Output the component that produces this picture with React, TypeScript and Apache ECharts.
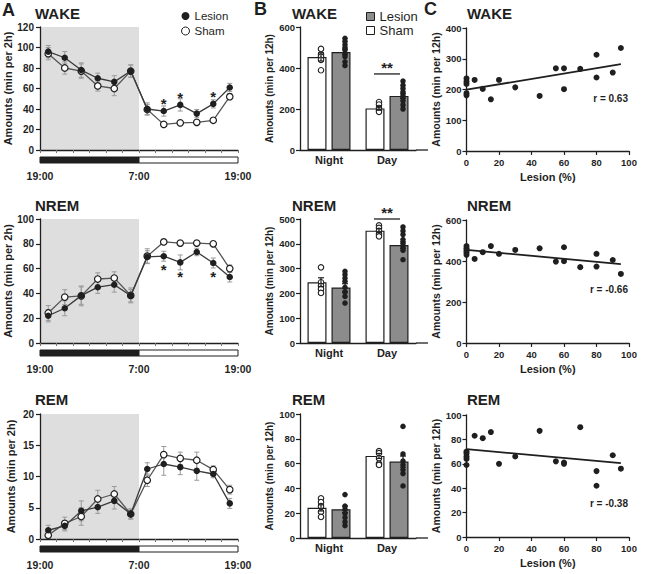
import React, { useEffect, useRef } from "react";
import * as echarts from "echarts";

const FONT = "'Liberation Sans', Arial, Helvetica, sans-serif";
const INK = "#1f1f1f";
const LESION_GRAY = "#8c8c8c";
const NIGHT_SHADE = "#dedede";
const ERR_GRAY = "#9a9a9a";

// ---------- A: time course in 2-h bins (hours after 19:00 lights-off) ----------
const binHours = [1, 3, 5, 7, 9, 11, 13, 15, 17, 19, 21, 23];
const clockLabels = ["19:00", "7:00", "19:00"];
const darkPhase = [0, 12];
const lightPhase = [12, 24];

const wakeLesion = [96, 90, 78, 70, 66.5, 77, 40, 38, 44, 35.5, 45, 61];
const wakeLesionSem = [6, 6, 7, 5, 6, 6, 6, 5, 6, 4, 4, 4];
const wakeSham = [94, 80, 77, 62.5, 60, 77, 39.5, 25, 26.5, 27, 29, 52];
const wakeShamSem = [6, 6, 7, 5, 7, 6, 5, 2, 2, 2, 2, 3];
const wakeSigHours = [15, 17, 21];

const nremLesion = [22, 28, 38.2, 45, 47, 38.2, 69.4, 70, 65, 73.4, 64.5, 53.2];
const nremLesionSem = [5, 6, 7, 5, 6, 5, 5, 4, 6, 3, 4, 4];
const nremSham = [24.2, 37, 38, 51.6, 52.4, 38.4, 70, 81.5, 80.6, 80.6, 80, 60];
const nremShamSem = [6, 6, 8, 5, 5, 6, 6, 2, 2, 2, 2, 3];
const nremSigHours = [15, 17, 21];

const remLesion = [1.4, 2.1, 4.5, 5.1, 6.1, 4.0, 11.2, 12.0, 11.5, 10.9, 10.4, 5.7];
const remLesionSem = [0.8, 0.8, 1.6, 1.0, 1.3, 0.8, 1.0, 1.8, 1.2, 1.5, 0.6, 0.8];
const remSham = [0.6, 2.5, 3.6, 6.4, 7.2, 4.0, 9.4, 13.5, 12.9, 12.6, 11.1, 7.9];
const remShamSem = [0.5, 1.0, 1.4, 1.4, 1.2, 0.8, 1.0, 1.3, 1.0, 1.3, 0.6, 0.7];
const remSigHours: number[] = [];

// ---------- B: 12-h totals, Night / Day ----------
const periods = ["Night", "Day"];

const wakeShamTotal = [454, 203];
const wakeShamTotalSem = [20, 9];
const wakeLesionTotal = [478, 264];
const wakeLesionTotalSem = [14, 13];
const wakeShamNight = [493, 466, 455, 440, 389];
const wakeShamDay = [234, 222, 205, 195, 186];
const wakeLesionNight = [545, 530, 515, 500, 488, 470, 455, 430, 412];
const wakeLesionDay = [336, 316, 300, 284, 268, 256, 240, 220, 200];
const wakeDaySigLevel = 371;

const nremShamTotal = [245, 453];
const nremShamTotalSem = [18, 8];
const nremLesionTotal = [224, 395];
const nremLesionTotalSem = [15, 13];
const nremShamNight = [305, 245, 230, 218, 202];
const nremShamDay = [474, 464, 452, 440, 430];
const nremLesionNight = [289, 276, 262, 249, 224, 205, 188, 161];
const nremLesionDay = [468, 452, 437, 417, 401, 388, 374, 336];
const nremDaySigLevel = 500;

const remShamTotal = [24.3, 66.2];
const remShamTotalSem = [2.5, 2];
const remLesionTotal = [23.2, 61.6];
const remLesionTotalSem = [2.5, 4.5];
const remShamNight = [32, 29, 25.7, 21, 17];
const remShamDay = [70, 68.4, 64.3, 60, 58.9];
const remLesionNight = [35, 25.7, 23, 19.7, 16.5, 13, 10];
const remLesionDay = [90, 67.8, 62, 59, 55, 52, 42];

// ---------- C: daytime amount vs lesion size ----------
const lesionPct = [0, 0, 0, 0, 0, 5, 10, 15, 20, 30, 45, 55, 60, 60, 70, 80, 80, 90, 95];
const wakeDay12h = [236, 226, 218, 188, 181, 231, 202, 168, 231, 207, 179, 269, 269, 201, 267, 313, 239, 255, 335];
const nremDay12h = [473, 462, 451, 441, 430, 410, 443, 473, 435, 454, 462, 397, 467, 399, 370, 435, 373, 405, 337];
const remDay12h = [70, 68.5, 66, 64, 59, 83, 81, 86, 60, 66, 87, 62, 61, 60, 90, 54, 42, 67, 56];
const wakeR = "r = 0.63";
const nremR = "r = -0.66";
const remR = "r = -0.38";

// ---------- layout ----------
const A_LEFT = 40;
const A_W = 198;
const B_LEFT = 300;
const B_W = 116;
const B_AXIS_END = 428;
const C_LEFT = 466.5;
const C_W = 162.5;
const BAR_W = 19;
const BAR_GAP_PX = 5;
const BAR_OFFSET = (BAR_W + BAR_GAP_PX) / 2;
const DOT_SHIFT = 4;

const rowsLayout = [
  { aTop: 27, aH: 123, bTop: 27, bH: 123, cTop: 28, cH: 123, titleY: 13, rY: 98 },
  { aTop: 219, aH: 124, bTop: 219, bH: 124, cTop: 220, cH: 123, titleY: 205, rY: 289 },
  { aTop: 414, aH: 125, bTop: 414, bH: 124, cTop: 415, cH: 122, titleY: 399, rY: 503 },
];

const states = [
  {
    title: "WAKE",
    a: { max: 120, step: 20, lesion: wakeLesion, lesionSem: wakeLesionSem, sham: wakeSham, shamSem: wakeShamSem, sig: wakeSigHours, sigBelow: false },
    b: { max: 600, step: 200, sham: wakeShamTotal, shamSem: wakeShamTotalSem, lesion: wakeLesionTotal, lesionSem: wakeLesionTotalSem, shamDots: [wakeShamNight, wakeShamDay], lesionDots: [wakeLesionNight, wakeLesionDay], sig: wakeDaySigLevel as number | null },
    c: { max: 400, step: 100, ys: wakeDay12h, r: wakeR },
  },
  {
    title: "NREM",
    a: { max: 100, step: 20, lesion: nremLesion, lesionSem: nremLesionSem, sham: nremSham, shamSem: nremShamSem, sig: nremSigHours, sigBelow: true },
    b: { max: 500, step: 100, sham: nremShamTotal, shamSem: nremShamTotalSem, lesion: nremLesionTotal, lesionSem: nremLesionTotalSem, shamDots: [nremShamNight, nremShamDay], lesionDots: [nremLesionNight, nremLesionDay], sig: nremDaySigLevel as number | null },
    c: { max: 600, step: 200, ys: nremDay12h, r: nremR },
  },
  {
    title: "REM",
    a: { max: 20, step: 5, lesion: remLesion, lesionSem: remLesionSem, sham: remSham, shamSem: remShamSem, sig: remSigHours, sigBelow: false },
    b: { max: 100, step: 20, sham: remShamTotal, shamSem: remShamTotalSem, lesion: remLesionTotal, lesionSem: remLesionTotalSem, shamDots: [remShamNight, remShamDay], lesionDots: [remLesionNight, remLesionDay], sig: null as number | null },
    c: { max: 100, step: 20, ys: remDay12h, r: remR },
  },
];

const axisLine = { show: true, lineStyle: { color: INK, width: 1.3 } };
const tickOut = { show: true, inside: false, length: 4, lineStyle: { color: INK, width: 1.2 } };
const boldText = (size: number) => ({ fontFamily: FONT, fontWeight: "bold" as const, fontSize: size, color: INK });

function fitLine(xs: number[], ys: number[]) {
  const n = xs.length;
  const mx = xs.reduce((s, v) => s + v, 0) / n;
  const my = ys.reduce((s, v) => s + v, 0) / n;
  let sxy = 0;
  let sxx = 0;
  xs.forEach((x, i) => {
    sxy += (x - mx) * (ys[i] - my);
    sxx += (x - mx) * (x - mx);
  });
  const slope = sxy / sxx;
  const icpt = my - slope * mx;
  const x0 = Math.min(...xs);
  const x1 = Math.max(...xs);
  return [
    [x0, icpt + slope * x0],
    [x1, icpt + slope * x1],
  ];
}

function errorBars(color: string, cap: number, shiftPx: number, width: number) {
  return (_params: any, api: any) => {
    const x = api.value(0);
    const m = api.value(1);
    const s = api.value(2);
    const hi = api.coord([x, m + s]);
    const lo = api.coord([x, m - s]);
    const cx = hi[0] + shiftPx;
    const st = { stroke: color, lineWidth: width };
    return {
      type: "group",
      children: [
        { type: "line", shape: { x1: cx, y1: hi[1], x2: cx, y2: lo[1] }, style: st },
        { type: "line", shape: { x1: cx - cap, y1: hi[1], x2: cx + cap, y2: hi[1] }, style: st },
        { type: "line", shape: { x1: cx - cap, y1: lo[1], x2: cx + cap, y2: lo[1] }, style: st },
      ],
    };
  };
}

function buildOption() {
  const grid: any[] = [];
  const xAxis: any[] = [];
  const yAxis: any[] = [];
  const series: any[] = [];
  const graphic: any[] = [];

  const addGrid = (g: any) => {
    grid.push({ containLabel: false, outerBoundsMode: "none", ...g });
    return grid.length - 1;
  };

  states.forEach((st, r) => {
    const L = rowsLayout[r];

    // ----- A: time course -----
    const gA = addGrid({ left: A_LEFT, top: L.aTop, width: A_W, height: L.aH });
    xAxis.push({
      gridIndex: gA, type: "value", min: 0, max: 24, interval: 2, z: 6,
      axisLine, axisTick: { show: true, length: 3, lineStyle: { color: "#777", width: 1 } },
      axisLabel: { show: false }, splitLine: { show: false },
    });
    yAxis.push({
      gridIndex: gA, type: "value", min: 0, max: st.a.max, interval: st.a.step, z: 6,
      axisLine, axisTick: tickOut, splitLine: { show: false },
      axisLabel: { ...boldText(10), margin: 6 },
      name: "Amounts (min per 2h)", nameLocation: "middle", nameRotate: 90, nameGap: 24,
      nameTextStyle: boldText(11),
    });

    series.push({
      type: "line", xAxisIndex: gA, yAxisIndex: gA, data: [], silent: true, z: 1,
      markArea: { silent: true, itemStyle: { color: NIGHT_SHADE }, data: [[{ xAxis: darkPhase[0] }, { xAxis: darkPhase[1] }]] },
    });
    series.push({
      type: "custom", xAxisIndex: gA, yAxisIndex: gA, z: 3, silent: true,
      renderItem: errorBars(ERR_GRAY, 2.5, 0, 1),
      data: binHours.map((h, i) => [h, st.a.sham[i], st.a.shamSem[i]]),
    });
    series.push({
      type: "custom", xAxisIndex: gA, yAxisIndex: gA, z: 3, silent: true,
      renderItem: errorBars(ERR_GRAY, 2.5, 0, 1),
      data: binHours.map((h, i) => [h, st.a.lesion[i], st.a.lesionSem[i]]),
    });
    series.push({
      name: "Sham", type: "line", xAxisIndex: gA, yAxisIndex: gA, z: 5,
      symbol: "circle", symbolSize: 6.5,
      itemStyle: { color: "#fff", borderColor: INK, borderWidth: 1.2 },
      lineStyle: { color: "#555", width: 1.3 },
      data: binHours.map((h, i) => [h, st.a.sham[i]]),
    });
    series.push({
      name: "Lesion", type: "line", xAxisIndex: gA, yAxisIndex: gA, z: 6,
      symbol: "circle", symbolSize: 6.5,
      itemStyle: { color: INK, borderWidth: 0 },
      lineStyle: { color: "#3a3a3a", width: 1.3 },
      data: binHours.map((h, i) => {
        const v = [h, st.a.lesion[i]];
        if (!st.a.sig.includes(h)) return v;
        return {
          value: v,
          label: {
            show: true, formatter: "*", position: st.a.sigBelow ? "bottom" : "top",
            distance: 0, offset: [0, 3], fontSize: 15, fontWeight: "bold", fontFamily: FONT, color: INK,
          },
        };
      }),
    });

    // light/dark bar with clock labels
    const gP = addGrid({ left: A_LEFT, top: L.aTop + L.aH + 7, width: A_W, height: 6 });
    xAxis.push({
      gridIndex: gP, type: "value", min: 0, max: 24, interval: 12,
      axisLine: { show: false }, axisTick: { show: false }, splitLine: { show: false },
      axisLabel: {
        ...boldText(10.5), margin: 7, showMinLabel: true, showMaxLabel: true,
        formatter: (v: number) => clockLabels[Math.round(v / 12)],
      },
    });
    yAxis.push({ gridIndex: gP, type: "value", min: 0, max: 1, show: false });
    series.push({
      type: "custom", xAxisIndex: gP, yAxisIndex: gP, silent: true,
      renderItem: (params: any, api: any) => {
        const a = api.coord([api.value(0), 0]);
        const b = api.coord([api.value(1), 0]);
        const cs = params.coordSys;
        const dark = api.value(2) === 1;
        return {
          type: "rect",
          shape: { x: a[0], y: cs.y, width: b[0] - a[0], height: cs.height },
          style: { fill: dark ? INK : "#fff", stroke: INK, lineWidth: 1 },
        };
      },
      data: [
        [darkPhase[0], darkPhase[1], 1],
        [lightPhase[0], lightPhase[1], 0],
      ],
    });

    // ----- B: 12-h totals -----
    const gB = addGrid({ left: B_LEFT, top: L.bTop, width: B_W, height: L.bH });
    xAxis.push({
      gridIndex: gB, type: "category", data: periods, boundaryGap: true,
      axisLine, axisTick: { show: false }, axisLabel: { ...boldText(11), margin: 4 },
    });
    yAxis.push({
      gridIndex: gB, type: "value", min: 0, max: st.b.max, interval: st.b.step,
      axisLine, axisTick: tickOut, splitLine: { show: false },
      axisLabel: { ...boldText(9.5), margin: 5 },
      name: "Amounts (min per 12h)", nameLocation: "middle", nameRotate: 90, nameGap: 26,
      nameTextStyle: boldText(10),
    });
    series.push({
      name: "Sham", type: "bar", xAxisIndex: gB, yAxisIndex: gB, z: 2,
      barWidth: BAR_W, barGap: `${(BAR_GAP_PX / BAR_W) * 100}%`,
      itemStyle: { color: "#fff", borderColor: INK, borderWidth: 1.2 },
      data: st.b.sham,
    });
    series.push({
      name: "Lesion", type: "bar", xAxisIndex: gB, yAxisIndex: gB, z: 2,
      barWidth: BAR_W, barGap: `${(BAR_GAP_PX / BAR_W) * 100}%`,
      itemStyle: { color: LESION_GRAY, borderColor: INK, borderWidth: 1.2 },
      data: st.b.lesion,
    });
    series.push({
      type: "scatter", xAxisIndex: gB, yAxisIndex: gB, z: 4, symbol: "circle", symbolSize: 5.5,
      symbolOffset: [-BAR_OFFSET + DOT_SHIFT, 0],
      itemStyle: { color: "#fff", borderColor: INK, borderWidth: 1.1, opacity: 1 },
      data: st.b.shamDots.flatMap((vals, p) => vals.map((v) => [p, v])),
    });
    series.push({
      type: "scatter", xAxisIndex: gB, yAxisIndex: gB, z: 4, symbol: "circle", symbolSize: 5.5,
      symbolOffset: [BAR_OFFSET + DOT_SHIFT, 0],
      itemStyle: { color: INK, opacity: 1 },
      data: st.b.lesionDots.flatMap((vals, p) => vals.map((v) => [p, v])),
    });
    series.push({
      type: "custom", xAxisIndex: gB, yAxisIndex: gB, z: 5, silent: true,
      renderItem: errorBars(INK, 3, -BAR_OFFSET + DOT_SHIFT, 1.2),
      data: periods.map((_, p) => [p, st.b.sham[p], st.b.shamSem[p]]),
    });
    series.push({
      type: "custom", xAxisIndex: gB, yAxisIndex: gB, z: 5, silent: true,
      renderItem: errorBars(INK, 3, BAR_OFFSET + DOT_SHIFT, 1.2),
      data: periods.map((_, p) => [p, st.b.lesion[p], st.b.lesionSem[p]]),
    });
    if (st.b.sig !== null) {
      series.push({
        type: "custom", xAxisIndex: gB, yAxisIndex: gB, z: 5, silent: true, clip: false,
        renderItem: (_params: any, api: any) => {
          const p = api.coord([api.value(0), api.value(1)]);
          return {
            type: "group",
            children: [
              { type: "line", shape: { x1: p[0] - 13, y1: p[1], x2: p[0] + 13, y2: p[1] }, style: { stroke: INK, lineWidth: 1.3 } },
              {
                type: "text", x: p[0], y: p[1] + 1,
                style: { text: "**", align: "center", verticalAlign: "bottom", fontSize: 15, fontWeight: "bold", fontFamily: FONT, fill: INK },
              },
            ],
          };
        },
        data: [[1, st.b.sig]],
      });
    }
    graphic.push({
      type: "line", silent: true,
      shape: { x1: B_LEFT + B_W, y1: L.bTop + L.bH, x2: B_AXIS_END, y2: L.bTop + L.bH },
      style: { stroke: INK, lineWidth: 1.3 },
    });

    // ----- C: correlation with lesion size -----
    const gC = addGrid({ left: C_LEFT, top: L.cTop, width: C_W, height: L.cH });
    xAxis.push({
      gridIndex: gC, type: "value", min: 0, max: 100, interval: 20,
      axisLine, axisTick: tickOut, splitLine: { show: false },
      axisLabel: { ...boldText(9.5), margin: 6 },
      name: "Lesion (%)", nameLocation: "middle", nameGap: 20, nameTextStyle: boldText(11),
    });
    yAxis.push({
      gridIndex: gC, type: "value", min: 0, max: st.c.max, interval: st.c.step,
      axisLine, axisTick: tickOut, splitLine: { show: false },
      axisLabel: { ...boldText(9.5), margin: 5 },
      name: "Amounts (min per 12h)", nameLocation: "middle", nameRotate: 90, nameGap: 22,
      nameTextStyle: boldText(10.5),
    });
    series.push({
      type: "scatter", xAxisIndex: gC, yAxisIndex: gC, z: 4, symbol: "circle", symbolSize: 6,
      itemStyle: { color: INK, opacity: 1 },
      data: lesionPct.map((x, i) => [x, st.c.ys[i]]),
    });
    series.push({
      type: "line", xAxisIndex: gC, yAxisIndex: gC, z: 3, symbol: "none", silent: true,
      lineStyle: { color: INK, width: 1.8 },
      data: fitLine(lesionPct, st.c.ys),
    });

    // titles and r values
    const titleFont = { fontFamily: FONT, fontWeight: "bold", fontSize: 15, fill: INK, verticalAlign: "middle", align: "left" };
    graphic.push({ type: "text", x: 35, y: L.titleY, style: { ...titleFont, text: st.title } });
    graphic.push({ type: "text", x: 292, y: L.titleY, style: { ...titleFont, text: st.title } });
    graphic.push({ type: "text", x: 467, y: L.titleY, style: { ...titleFont, text: st.title } });
    graphic.push({
      type: "text", x: 628, y: L.rY,
      style: { text: st.c.r, fontFamily: FONT, fontWeight: "bold", fontSize: 10, fill: INK, align: "right", verticalAlign: "middle" },
    });
  });

  const letterFont = { fontFamily: FONT, fontWeight: "bold", fontSize: 18, fill: INK, verticalAlign: "middle", align: "left" };
  graphic.push({ type: "text", x: 2, y: 10, style: { ...letterFont, text: "A" } });
  graphic.push({ type: "text", x: 254, y: 9, style: { ...letterFont, text: "B" } });
  graphic.push({ type: "text", x: 424, y: 9, style: { ...letterFont, text: "C" } });

  return {
    animation: false,
    backgroundColor: "#fff",
    textStyle: { fontFamily: FONT },
    grid,
    xAxis,
    yAxis,
    series,
    graphic,
    legend: [
      {
        left: 176, top: 5, orient: "vertical", selectedMode: false,
        itemWidth: 8, itemHeight: 8, itemGap: 3,
        textStyle: { fontFamily: FONT, fontSize: 11.5, color: INK },
        data: [
          { name: "Lesion", icon: "circle", itemStyle: { color: INK, borderWidth: 0 } },
          { name: "Sham", icon: "circle", itemStyle: { color: "#fff", borderColor: INK, borderWidth: 1 } },
        ],
      },
      {
        left: 361, top: 5, orient: "vertical", selectedMode: false,
        itemWidth: 8, itemHeight: 8, itemGap: 1,
        textStyle: { fontFamily: FONT, fontSize: 13, color: INK },
        data: [
          { name: "Lesion", icon: "rect", itemStyle: { color: LESION_GRAY, borderColor: INK, borderWidth: 1 } },
          { name: "Sham", icon: "rect", itemStyle: { color: "#fff", borderColor: INK, borderWidth: 1 } },
        ],
      },
    ],
  };
}

export default function App() {
  const ref = useRef<HTMLDivElement>(null);
  useEffect(() => {
    document.body.style.margin = "0";
    const chart = echarts.init(ref.current!, null, { renderer: "svg" });
    chart.setOption(buildOption() as any);
    return () => chart.dispose();
  }, []);
  return <div ref={ref} style={{ width: 646, height: 574, background: "#fff" }} />;
}
